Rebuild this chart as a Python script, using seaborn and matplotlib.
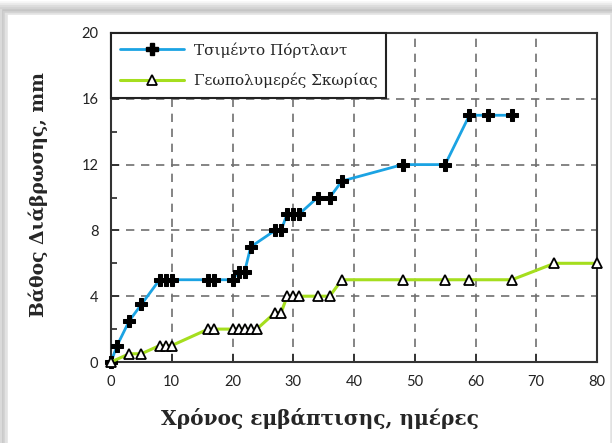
import matplotlib
matplotlib.use("Agg")
import matplotlib.pyplot as plt
import pandas as pd
import seaborn as sns
from matplotlib.lines import Line2D
from matplotlib.patches import Rectangle
from matplotlib.ticker import MultipleLocator

# data
portland_days = [0, 1, 3, 5, 8, 9, 10, 16, 17, 20, 21, 22, 23, 27, 28, 29, 30, 31, 34, 36, 38, 48, 55, 59, 62, 66]
portland_depth = [0, 1, 2.5, 3.5, 5, 5, 5, 5, 5, 5, 5.5, 5.5, 7, 8, 8, 9, 9, 9, 10, 10, 11, 12, 12, 15, 15, 15]
geopol_days = [0, 3, 5, 8, 9, 10, 16, 17, 20, 21, 22, 23, 24, 27, 28, 29, 30, 31, 34, 36, 38, 48, 55, 59, 66, 73, 80]
geopol_depth = [0, 0.5, 0.5, 1, 1, 1, 2, 2, 2, 2, 2, 2, 2, 3, 3, 4, 4, 4, 4, 4, 5, 5, 5, 5, 5, 6, 6]
series_names = ["Τσιμέντο Πόρτλαντ", "Γεωπολυμερές Σκωρίας"]
x_ticks = [0, 10, 20, 30, 40, 50, 60, 70, 80]
y_ticks = [0, 4, 8, 12, 16, 20]

df_p = pd.DataFrame({"days": portland_days, "depth": portland_depth})
df_g = pd.DataFrame({"days": geopol_days, "depth": geopol_depth})

blue = "#1ba3e3"
green = "#a5de1e"

sns.set_style("white")
plt.rcParams["font.family"] = ["DejaVu Serif"]

fig = plt.figure(figsize=(6.12, 4.43), dpi=100)
fig.patch.set_facecolor("white")

# soft shadow card behind the plot
for i, a in enumerate([0.05, 0.07, 0.09, 0.12, 0.16]):
    off = (5 - i) * 0.004
    fig.patches.append(Rectangle((0.012 - off, 0.0 - off), 0.985 + 2 * off, 0.97 + 2 * off,
                                 transform=fig.transFigure, facecolor="none",
                                 edgecolor=(0.3, 0.3, 0.3, a), linewidth=4, zorder=-2))
fig.patches.append(Rectangle((0.016, 0.0), 0.98, 0.965, transform=fig.transFigure,
                             facecolor="white", edgecolor="none", zorder=-1))

ax = fig.add_axes([111 / 612, 1 - 362 / 443, (597 - 111) / 612, (362 - 33) / 443])

sns.lineplot(data=df_p, x="days", y="depth", ax=ax, color=blue, linewidth=2,
             marker="P", markersize=9, markerfacecolor="black", markeredgecolor="black",
             errorbar=None, zorder=3, clip_on=False)
sns.lineplot(data=df_g, x="days", y="depth", ax=ax, color=green, linewidth=2.2,
             marker="^", markersize=6.5, markerfacecolor="white", markeredgecolor="black",
             markeredgewidth=1.3, errorbar=None, zorder=3, clip_on=False)

ax.set_xlim(0, 80)
ax.set_ylim(0, 20)
ax.set_xticks(x_ticks)
ax.set_yticks(y_ticks)
ax.yaxis.set_minor_locator(MultipleLocator(2))
ax.grid(True, which="major", linestyle=(0, (5, 4)), color="#707070", linewidth=1.2)
ax.tick_params(axis="both", which="both", direction="in", left=True, bottom=True,
               labelsize=10.5, pad=9)
ax.tick_params(axis="y", which="major", length=6, width=1.2)
ax.tick_params(axis="y", which="minor", length=4, width=1.2)
ax.tick_params(axis="x", which="major", length=6, width=1.2)
for lab in ax.get_xticklabels() + ax.get_yticklabels():
    lab.set_family(["Lato", "DejaVu Sans"])
    lab.set_color("#222222")
for sp in ax.spines.values():
    sp.set_color("#333333")
    sp.set_linewidth(1.5)

ax.set_xlabel("Χρόνος εμβάπτισης, ημέρες", fontsize=14.5, fontweight="bold")
ax.set_ylabel("Βάθος Διάβρωσης, mm", fontsize=13.5, fontweight="bold")
ax.xaxis.set_label_coords(0.43, -0.14)
ax.yaxis.set_label_coords(-0.13, 0.51)

handles = [
    Line2D([], [], color=blue, linewidth=2, marker="P", markersize=9,
           markerfacecolor="black", markeredgecolor="black"),
    Line2D([], [], color=green, linewidth=2.2, marker="^", markersize=7,
           markerfacecolor="white", markeredgecolor="black", markeredgewidth=1.3),
]
leg = ax.legend(handles, series_names, loc="upper left", borderaxespad=0,
                fancybox=False, framealpha=1, edgecolor="#222222", fontsize=11,
                handlelength=4.2, borderpad=0.6, labelspacing=1.0, handletextpad=0.6)
leg.get_frame().set_linewidth(1.5)
leg.set_zorder(5)

fig.savefig("out.png", dpi=100)
